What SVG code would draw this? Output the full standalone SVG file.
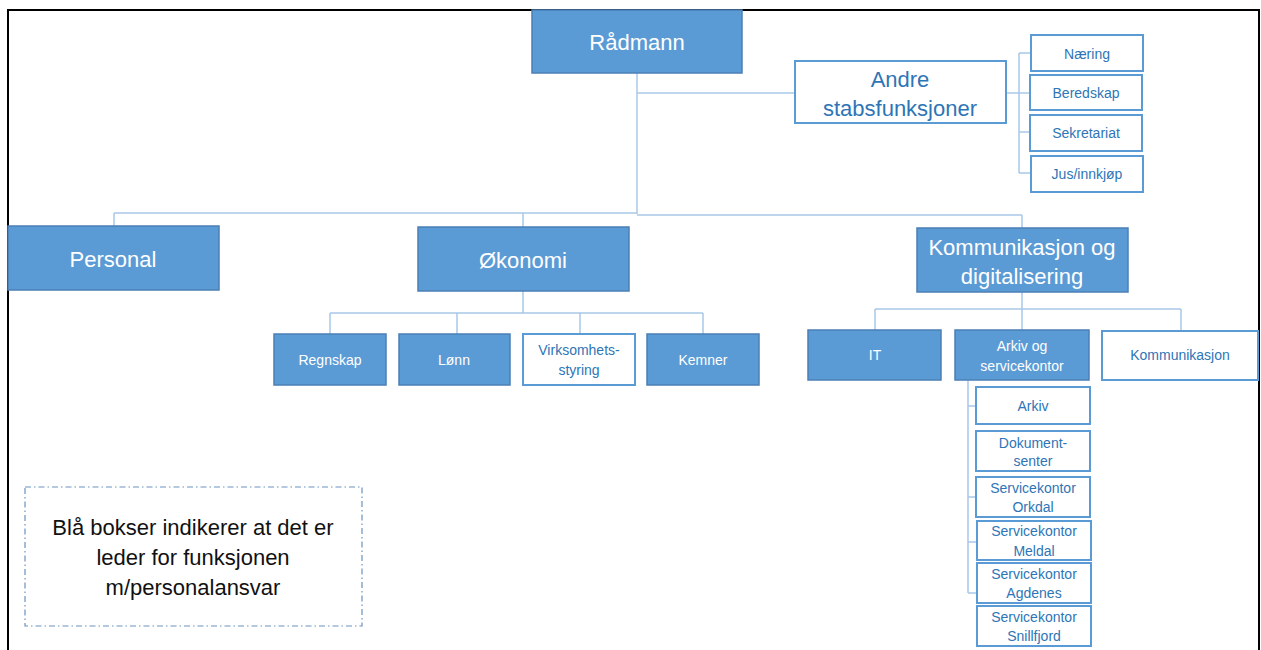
<svg xmlns="http://www.w3.org/2000/svg" width="1261" height="650" viewBox="0 0 1261 650">
<style>
.b{fill:#5b9bd5;stroke:#4a7fb5;stroke-width:1.5}
.w{fill:#fff;stroke:#5b9bd5;stroke-width:2}
.tb{fill:#fff;font-family:"Liberation Sans",Arial,sans-serif;text-anchor:middle;dominant-baseline:central}
.tw{fill:#2e75b6;font-family:"Liberation Sans",Arial,sans-serif;text-anchor:middle;dominant-baseline:central}
.L{font-size:22px}
.S{font-size:14px}
.c{fill:none;stroke:#a8c8e8;stroke-width:1.5}
</style>
<rect x="0" y="0" width="1261" height="650" fill="#fff"/>
<path d="M8,660 V10 H1259 V660" fill="none" stroke="#000" stroke-width="2"/>
<g id="connectors">
<path class="c" d="M637,73 V214"/>
<path class="c" d="M637,93 H795"/>
<path class="c" d="M1006,93 H1030"/>
<path class="c" d="M1019,53 V173 M1019,53 H1031 M1019,132 H1031 M1019,173 H1031"/>
<path class="c" d="M114,213 H637 M637,215 H1022 M114,213 V227 M523,213 V227 M1022,215 V228"/>
<path class="c" d="M523,291 V313 M330,313 H703 M330,313 V334 M457,313 V334 M580,313 V334 M703,313 V334"/>
<path class="c" d="M1022,292 V309 M875,309 H1181 M875,309 V330 M1022,309 V330 M1181,309 V331"/>
<path class="c" d="M968,380 V593 M968,406 H977 M968,497 H977 M968,542 H977 M968,593 H977"/>
</g>
<g id="radmann"><rect class="b" x="532" y="10" width="210" height="63"/><text class="tb L" x="637" y="42">Rådmann</text></g>
<g id="andre"><rect class="w" x="795" y="61" width="211" height="62"/><text class="tw L" x="900" y="79">Andre</text><text class="tw L" x="900" y="108">stabsfunksjoner</text></g>
<g id="naering"><rect class="w" x="1031" y="35" width="112" height="36"/><text class="tw S" x="1087" y="54">Næring</text></g>
<g id="beredskap"><rect class="w" x="1030" y="75" width="112" height="35"/><text class="tw S" x="1086" y="93">Beredskap</text></g>
<g id="sekretariat"><rect class="w" x="1030" y="115" width="112" height="36"/><text class="tw S" x="1086" y="133">Sekretariat</text></g>
<g id="jus"><rect class="w" x="1031" y="156" width="112" height="36"/><text class="tw S" x="1087" y="174">Jus/innkjøp</text></g>
<g id="personal"><rect class="b" x="8" y="226" width="211" height="64"/><text class="tb L" x="113" y="259">Personal</text></g>
<g id="okonomi"><rect class="b" x="418" y="227" width="211" height="64"/><text class="tb L" x="523" y="260">Økonomi</text></g>
<g id="kommdig"><rect class="b" x="917" y="228" width="211" height="64"/><text class="tb L" x="1022" y="247">Kommunikasjon og</text><text class="tb L" x="1022" y="276">digitalisering</text></g>
<g id="regnskap"><rect class="b" x="274" y="334" width="112" height="51"/><text class="tb S" x="330" y="360">Regnskap</text></g>
<g id="lonn"><rect class="b" x="399" y="334" width="111" height="51"/><text class="tb S" x="454" y="360">Lønn</text></g>
<g id="virksomhet"><rect class="w" x="523" y="334" width="112" height="51"/><text class="tw S" x="579" y="350">Virksomhets-</text><text class="tw S" x="579" y="370">styring</text></g>
<g id="kemner"><rect class="b" x="647" y="334" width="112" height="51"/><text class="tb S" x="703" y="360">Kemner</text></g>
<g id="it"><rect class="b" x="808" y="330" width="133" height="50"/><text class="tb S" x="875" y="355">IT</text></g>
<g id="arkivservice"><rect class="b" x="955" y="330" width="134" height="50"/><text class="tb S" x="1022" y="346">Arkiv og</text><text class="tb S" x="1022" y="366">servicekontor</text></g>
<g id="kommunikasjon"><rect class="w" x="1102" y="331" width="156" height="49"/><text class="tw S" x="1180" y="355">Kommunikasjon</text></g>
<g id="arkiv"><rect class="w" x="976" y="387" width="114" height="37"/><text class="tw S" x="1033" y="406">Arkiv</text></g>
<g id="dokument"><rect class="w" x="976" y="431" width="114" height="40"/><text class="tw S" x="1033" y="443">Dokument-</text><text class="tw S" x="1033" y="461">senter</text></g>
<g id="orkdal"><rect class="w" x="976" y="477" width="114" height="40"/><text class="tw S" x="1033" y="488">Servicekontor</text><text class="tw S" x="1033" y="507">Orkdal</text></g>
<g id="meldal"><rect class="w" x="977" y="521" width="114" height="39"/><text class="tw S" x="1034" y="531">Servicekontor</text><text class="tw S" x="1034" y="551">Meldal</text></g>
<g id="agdenes"><rect class="w" x="977" y="563" width="114" height="40"/><text class="tw S" x="1034" y="574">Servicekontor</text><text class="tw S" x="1034" y="593">Agdenes</text></g>
<g id="snillfjord"><rect class="w" x="977" y="606" width="114" height="40"/><text class="tw S" x="1034" y="617">Servicekontor</text><text class="tw S" x="1034" y="636">Snillfjord</text></g>
<g id="legend"><rect x="25" y="487" width="337" height="139" fill="#fff" stroke="#6a93bf" stroke-width="1.2" stroke-dasharray="6,3,1.5,3"/>
<text x="193" y="527" font-family="'Liberation Sans',Arial,sans-serif" font-size="22" fill="#111" text-anchor="middle" dominant-baseline="central">Blå bokser indikerer at det er</text>
<text x="193" y="557" font-family="'Liberation Sans',Arial,sans-serif" font-size="22" fill="#111" text-anchor="middle" dominant-baseline="central">leder for funksjonen</text>
<text x="193" y="587" font-family="'Liberation Sans',Arial,sans-serif" font-size="22" fill="#111" text-anchor="middle" dominant-baseline="central">m/personalansvar</text></g>
</svg>
